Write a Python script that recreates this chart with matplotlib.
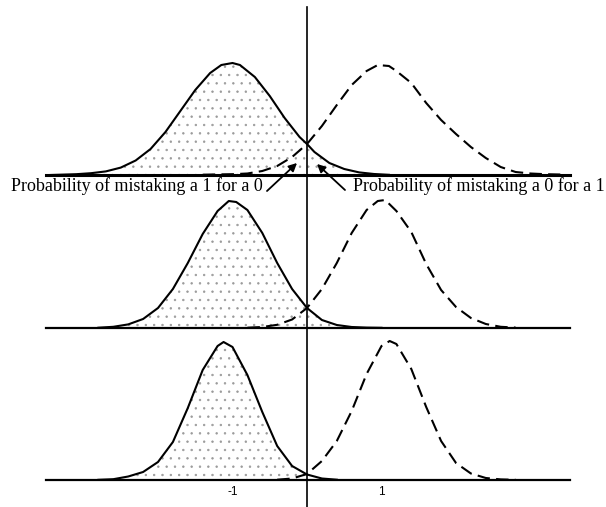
import matplotlib.pyplot as plt

# curve heights (above each baseline)
# panel 1 (top)
p1_x0 = [-3.45, -3.1, -2.9, -2.7, -2.5, -2.3, -2.1, -1.9, -1.7, -1.5, -1.3, -1.15, -1.0, -0.9,
         -0.7, -0.5, -0.3, -0.1, 0.0, 0.1, 0.3, 0.5, 0.7, 0.9, 1.1]
p1_y0 = [0, 0.8, 1.8, 3.6, 7.4, 14.5, 26, 43, 64, 85, 102, 110, 112, 110,
         98, 79, 57, 38, 31, 23, 12, 6, 2.6, 1.0, 0.2]
p1_x1 = [-1.4, -1.2, -1.0, -0.8, -0.6, -0.4, -0.2, 0.0, 0.2, 0.4, 0.6, 0.8, 0.95, 1.1, 1.2,
         1.4, 1.6, 1.8, 2.0, 2.2, 2.4, 2.6, 2.8, 3.0, 3.2, 3.4]
p1_y1 = [0.3, 0.6, 0.8, 1.5, 4.0, 9.0, 18, 31, 49, 70, 90, 104, 110, 109, 104,
         92, 72, 55, 41, 28, 17, 8, 3, 1.5, 0.8, 0.5]

# panel 2 (middle)
p2_x0 = [-2.8, -2.6, -2.4, -2.2, -2.0, -1.8, -1.6, -1.4, -1.2, -1.05, -0.95, -0.8, -0.6,
         -0.4, -0.2, 0.0, 0.2, 0.4, 0.6, 0.8, 1.0]
p2_y0 = [0.3, 1.2, 3.6, 9.0, 20, 39, 65, 94, 117, 127, 126, 118, 95,
         65, 39, 20, 8, 3, 1.0, 0.4, 0.2]
p2_x1 = [-0.8, -0.6, -0.4, -0.2, 0.0, 0.2, 0.4, 0.6, 0.8, 0.95, 1.05, 1.2, 1.4, 1.6, 1.8,
         2.0, 2.2, 2.4, 2.6, 2.8]
p2_y1 = [0.3, 1.0, 3.2, 8.5, 20, 39, 65, 95, 118, 127, 128, 117, 96, 64, 38,
         21, 10, 4, 1.2, 0.4]

# panel 3 (bottom)
p3_x0 = [-2.8, -2.6, -2.4, -2.2, -2.0, -1.8, -1.6, -1.4, -1.2, -1.12, -1.0, -0.8, -0.6,
         -0.4, -0.2, 0.0, 0.2, 0.4]
p3_y0 = [0.2, 0.8, 3.5, 8, 18, 38, 72, 110, 134, 138, 133, 105, 68,
         34, 14, 5.5, 1.5, 0.3]
p3_x1 = [-0.4, -0.2, 0.0, 0.2, 0.4, 0.6, 0.8, 1.0, 1.11, 1.2, 1.4, 1.6, 1.8, 2.0, 2.2,
         2.4, 2.6, 2.8]
p3_y1 = [0.3, 1.5, 6, 19, 39, 69, 106, 134, 139, 136, 111, 73, 39, 17, 6.5,
         2, 0.6, 0.2]

tick_pos = [-1, 1]
tick_lab = ['-1', '1']
label_left = 'Probability of mistaking a 1 for a 0'
label_right = 'Probability of mistaking a 0 for a 1'

plt.rcParams['hatch.color'] = '#9a9a9a'
plt.rcParams['hatch.linewidth'] = 0.5

W, H = 606, 507
XLIM = (-307 / 74.5, (W - 307) / 74.5)
fig = plt.figure(figsize=(W / 100, H / 100), dpi=100)

panels = [(p1_x0, p1_y0, p1_x1, p1_y1, 175, 2.2),
          (p2_x0, p2_y0, p2_x1, p2_y1, 328, 1.6),
          (p3_x0, p3_y0, p3_x1, p3_y1, 480, 1.6)]
axes = []
for x0, y0, x1, y1, base, blw in panels:
    ax = fig.add_axes([0, (H - base) / H, 1, 150 / H])
    ax.set_xlim(XLIM)
    ax.set_ylim(0, 150)
    ax.set_facecolor('none')
    for s in ax.spines.values():
        s.set_visible(False)
    ax.set_xticks([])
    ax.set_yticks([])
    ax.fill_between(x0, y0, 0, facecolor='none', edgecolor='#9a9a9a', linewidth=0, hatch='..')
    ax.plot(x0, y0, color='k', lw=1.5, clip_on=False)
    ax.plot(x1, y1, color='k', lw=1.5, dashes=(6, 3), clip_on=False)
    ax.axhline(0, xmin=46 / W, xmax=570 / W, color='k', lw=blw, clip_on=False)
    axes.append(ax)

ax1, ax2, ax3 = axes

# labels + arrows on the top panel
ax1.text(-0.59, -16, label_left, ha='right', va='baseline',
         family='Liberation Serif', size=13)
ax1.text(0.62, -16, label_right, ha='left', va='baseline',
         family='Liberation Serif', size=13)
ax1.annotate('', xy=(-0.134, 12), xytext=(-0.537, -16),
             arrowprops=dict(arrowstyle='-|>', color='k', lw=1.3, mutation_scale=12,
                             shrinkA=0, shrinkB=0))
ax1.annotate('', xy=(0.134, 11), xytext=(0.51, -15),
             arrowprops=dict(arrowstyle='-|>', color='k', lw=1.3, mutation_scale=12,
                             shrinkA=0, shrinkB=0))

# tick labels on the bottom panel
ax3.set_xticks(tick_pos, labels=tick_lab)
ax3.tick_params(axis='x', length=0, pad=4, labelsize=8.5)
for t in ax3.get_xticklabels():
    t.set_family('Liberation Sans')

# vertical line through all panels
bg = fig.add_axes([0, 0, 1, 1])
bg.set_xlim(XLIM)
bg.set_ylim(H, 0)
bg.set_facecolor('none')
bg.axis('off')
bg.axvline(0, ymin=0, ymax=1 - 7 / H, color='k', lw=1.2)

plt.savefig('out.png', dpi=100)
